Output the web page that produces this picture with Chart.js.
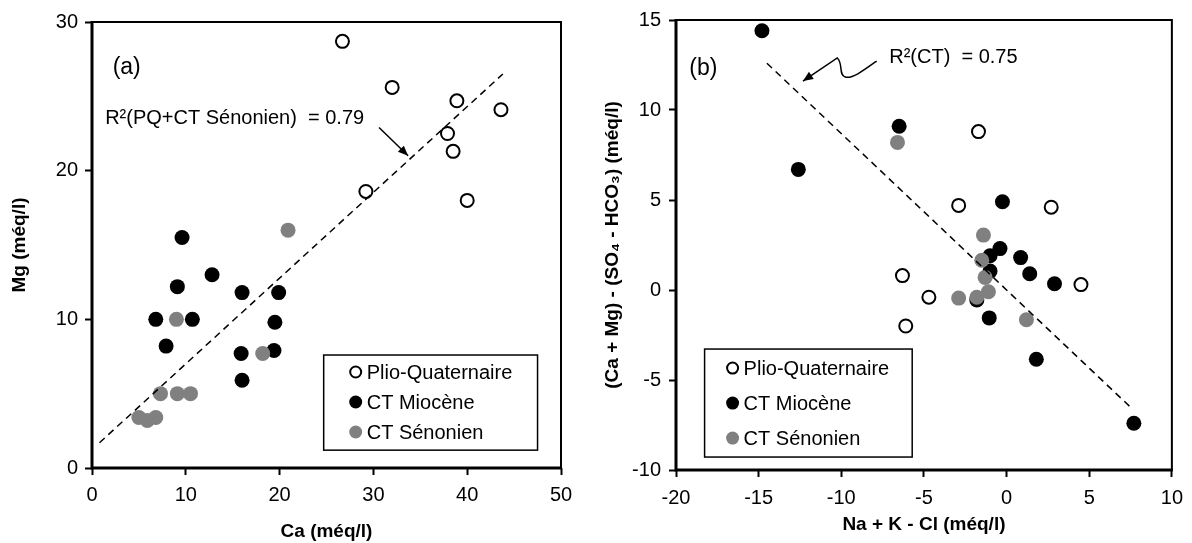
<!DOCTYPE html>
<html>
<head>
<meta charset="utf-8">
<script src="https://cdn.jsdelivr.net/npm/chart.js@4.4.1/dist/chart.umd.min.js"></script>
<style>
  body { margin: 0; background: #fff; width: 1192px; height: 543px; overflow: hidden; position: relative; }
  #chartA { position: absolute; left: 0; top: 0; }
  #chartB { position: absolute; left: 590px; top: 0; }
</style>
</head>
<body>
<canvas id="chartA" width="590" height="543"></canvas>
<canvas id="chartB" width="602" height="543"></canvas>
<script>
// ---- (a) Mg vs Ca (méq/l)
var pqCa = [26.7, 32.0, 38.9, 43.6, 37.9, 38.5, 29.2, 40.0];
var pqMg = [28.7, 25.6, 24.7, 24.1, 22.5, 21.3, 18.6, 18.0];
var mioCa = [9.6, 12.8, 9.1, 16.0, 19.9, 6.8, 10.7, 19.5, 7.9, 15.9, 19.4, 16.0];
var mioMg = [15.5, 13.0, 12.2, 11.8, 11.8, 10.0, 10.0, 9.8, 8.2, 7.7, 7.9, 5.9];
var senCa = [20.9, 9.0, 18.2, 7.3, 9.1, 10.5, 5.0, 5.9, 6.8];
var senMg = [16.0, 10.0, 7.7, 5.0, 5.0, 5.0, 3.4, 3.2, 3.4];
var trendCa = [0.8, 43.8];
var trendMg = [1.7, 26.5];
var caTicks = [0, 10, 20, 30, 40, 50];
var mgTicks = [0, 10, 20, 30];

// ---- (b) (Ca+Mg)-(SO4-HCO3) vs Na+K-Cl (méq/l)
var pqNa = [-1.7, -2.9, 2.7, -6.3, -4.7, -6.1, 4.5];
var pqBal = [8.8, 4.7, 4.6, 0.8, -0.4, -2.0, 0.3];
var mioNa = [-14.8, -12.6, -6.5, -0.25, -0.4, -1.0, 0.85, -1.0, 1.4, 2.9, -1.8, -1.05, 1.8, 7.7];
var mioBal = [14.4, 6.7, 9.1, 4.9, 2.3, 1.9, 1.8, 1.05, 0.9, 0.35, -0.55, -1.55, -3.85, -7.4];
var senNa = [-6.6, -1.4, -1.5, -1.3, -2.9, -1.8, -1.1, 1.2];
var senBal = [8.2, 3.05, 1.65, 0.7, -0.45, -0.4, -0.1, -1.65];
var trendNa = [-14.5, 7.6];
var trendBal = [12.6, -6.6];
var naTicks = [-20, -15, -10, -5, 0, 5, 10];
var balTicks = [-10, -5, 0, 5, 10, 15];

var seriesNames = ["Plio-Quaternaire", "CT Miocène", "CT Sénonien"];

var FONT = "'Liberation Sans', Arial, sans-serif";
Chart.defaults.font.family = FONT;
Chart.defaults.color = "#000";

function pts(xs, ys) {
  return xs.map(function (x, i) { return { x: x, y: ys[i] }; });
}

function makeDatasets(p, m, s, t) {
  return [
    { label: "trend", data: t, showLine: true, pointRadius: 0, borderColor: "#000",
      borderWidth: 1.5, borderDash: [7, 5], order: 0, noLegend: true },
    { label: seriesNames[2], data: s, pointRadius: 7.5, pointBackgroundColor: "#808080",
      pointBorderColor: "#808080", pointBorderWidth: 0, order: 1 },
    { label: seriesNames[1], data: m, pointRadius: 7.5, pointBackgroundColor: "#000",
      pointBorderColor: "#000", pointBorderWidth: 0, order: 2 },
    { label: seriesNames[0], data: p, pointRadius: 6.5, pointBackgroundColor: "#fff",
      pointBorderColor: "#000", pointBorderWidth: 2, order: 3 }
  ];
}

function arrowHead(ctx, fx, fy, tx, ty, size) {
  var a = Math.atan2(ty - fy, tx - fx);
  ctx.beginPath();
  ctx.moveTo(tx, ty);
  ctx.lineTo(tx - size * Math.cos(a - 0.4), ty - size * Math.sin(a - 0.4));
  ctx.lineTo(tx - size * Math.cos(a + 0.4), ty - size * Math.sin(a + 0.4));
  ctx.closePath();
  ctx.fill();
}

// frame, legend box and the text notes
function makeDecor(cfg) {
  return {
    id: "decor",
    beforeDatasetsDraw: function (chart) {
      var ctx = chart.ctx, a = chart.chartArea;
      ctx.save();
      ctx.strokeStyle = "#000";
      ctx.lineWidth = 2;
      ctx.strokeRect(a.left, a.top, a.right - a.left, a.bottom - a.top);
      ctx.lineWidth = 3;
      ctx.beginPath();
      ctx.moveTo(a.left, a.top - 1);
      ctx.lineTo(a.left, a.bottom + 1.5);
      ctx.moveTo(a.left - 1.5, a.bottom);
      ctx.lineTo(a.right + 1, a.bottom);
      ctx.stroke();
      ctx.restore();
    },
    afterDatasetsDraw: function (chart) {
      var ctx = chart.ctx, sx = chart.scales.x, sy = chart.scales.y;
      function X(v) { return sx.getPixelForValue(v); }
      function Y(v) { return sy.getPixelForValue(v); }
      ctx.save();
      ctx.fillStyle = "#000";
      ctx.strokeStyle = "#000";
      ctx.textBaseline = "middle";
      ctx.textAlign = "left";
      cfg.notes.forEach(function (n) {
        ctx.font = n.size + "px " + FONT;
        ctx.fillText(n.text, X(n.x), Y(n.y));
      });
      // arrow
      var p = cfg.arrow;
      ctx.lineWidth = 1.5;
      ctx.beginPath();
      ctx.moveTo(X(p[0][0]), Y(p[0][1]));
      for (var i = 1; i < p.length; i += 3) {
        if (i + 2 < p.length) {
          ctx.bezierCurveTo(X(p[i][0]), Y(p[i][1]), X(p[i + 1][0]), Y(p[i + 1][1]), X(p[i + 2][0]), Y(p[i + 2][1]));
        } else {
          ctx.lineTo(X(p[p.length - 1][0]), Y(p[p.length - 1][1]));
          i = p.length;
        }
      }
      ctx.stroke();
      var n2 = p.length;
      arrowHead(ctx, X(p[n2 - 2][0]), Y(p[n2 - 2][1]), X(p[n2 - 1][0]), Y(p[n2 - 1][1]), 11);

      // legend
      var L = cfg.legend;
      var bx = X(L.x0), by = Y(L.y0), bw = X(L.x1) - bx, bh = Y(L.y1) - by;
      ctx.fillStyle = "#fff";
      ctx.fillRect(bx, by, bw, bh);
      ctx.lineWidth = 1.5;
      ctx.strokeRect(bx, by, bw, bh);
      ctx.font = "20px " + FONT;
      var items = chart.data.datasets.filter(function (d) { return !d.noLegend; })
        .sort(function (u, v) { return seriesNames.indexOf(u.label) - seriesNames.indexOf(v.label); });
      items.forEach(function (d, k) {
        var cy = by + L.row0 + k * L.step;
        ctx.beginPath();
        ctx.arc(bx + L.mark, cy, d.pointBorderWidth ? 5.5 : 6.5, 0, Math.PI * 2);
        ctx.fillStyle = d.pointBackgroundColor;
        ctx.fill();
        if (d.pointBorderWidth) {
          ctx.lineWidth = d.pointBorderWidth;
          ctx.strokeStyle = d.pointBorderColor;
          ctx.stroke();
        }
        ctx.fillStyle = "#000";
        ctx.fillText(d.label, bx + L.text, cy + 1);
      });
      ctx.restore();
    }
  };
}

function axis(ticks, title, w, h, tickPad, titlePad) {
  return {
    type: "linear",
    min: ticks[0],
    max: ticks[ticks.length - 1],
    afterBuildTicks: function (s) { s.ticks = ticks.map(function (v) { return { value: v }; }); },
    afterFit: function (s) { if (w) s.width = w; if (h) s.height = h; },
    border: { display: false },
    grid: { drawOnChartArea: false, drawTicks: true, tickLength: 7, tickWidth: 2, tickColor: "#000" },
    ticks: { font: { size: 20 }, color: "#000", padding: tickPad },
    title: { display: true, text: title, font: { size: 19, weight: "bold" }, color: "#000", padding: titlePad }
  };
}

new Chart(document.getElementById("chartA"), {
  type: "scatter",
  data: { datasets: makeDatasets(pts(pqCa, pqMg), pts(mioCa, mioMg), pts(senCa, senMg), pts(trendCa, trendMg)) },
  options: {
    responsive: false,
    animation: false,
    events: [],
    layout: { padding: { left: 0, right: 29, top: 22, bottom: 0 } },
    plugins: { legend: { display: false }, tooltip: { enabled: false } },
    scales: {
      x: axis(caTicks, "Ca (méq/l)", 0, 75, 8, { top: 4, bottom: 0 }),
      y: axis(mgTicks, "Mg (méq/l)", 92, 0, 7, { top: 8, bottom: 0 })
    }
  },
  plugins: [makeDecor({
    notes: [
      { text: "(a)", x: 2.2, y: 26.9, size: 23 },
      { text: "R²(PQ+CT Sénonien)  = 0.79", x: 1.4, y: 23.5, size: 20 }
    ],
    arrow: [[30.6, 22.9], [33.7, 21.0]],
    legend: { x0: 24.7, y0: 7.6, x1: 47.5, y1: 1.2, mark: 32, text: 43, row0: 17, step: 30 }
  })]
});

new Chart(document.getElementById("chartB"), {
  type: "scatter",
  data: { datasets: makeDatasets(pts(pqNa, pqBal), pts(mioNa, mioBal), pts(senNa, senBal), pts(trendNa, trendBal)) },
  options: {
    responsive: false,
    animation: false,
    events: [],
    layout: { padding: { left: 0, right: 13, top: 20, bottom: 0 } },
    plugins: { legend: { display: false }, tooltip: { enabled: false } },
    scales: {
      x: axis(naTicks, "Na + K - Cl (méq/l)", 0, 73, 9, { top: 4, bottom: 7 }),
      y: axis(balTicks, "(Ca + Mg) - (SO₄ - HCO₃) (méq/l)", 86, 0, 8, { top: 11, bottom: 0 })
    }
  },
  plugins: [makeDecor({
    notes: [
      { text: "(b)", x: -19.2, y: 12.3, size: 23 },
      { text: "R²(CT)  = 0.75", x: -7.1, y: 12.9, size: 20 }
    ],
    arrow: [[-7.86, 12.72], [-8.69, 12.17], [-9.35, 11.72], [-9.76, 11.83],
            [-10.18, 11.94], [-9.88, 12.61], [-10.24, 12.89], [-12.32, 11.61]],
    legend: { x0: -18.27, y0: -3.28, x1: -5.71, y1: -9.28, mark: 28, text: 39, row0: 19, step: 35 }
  })]
});
</script>
</body>
</html>
